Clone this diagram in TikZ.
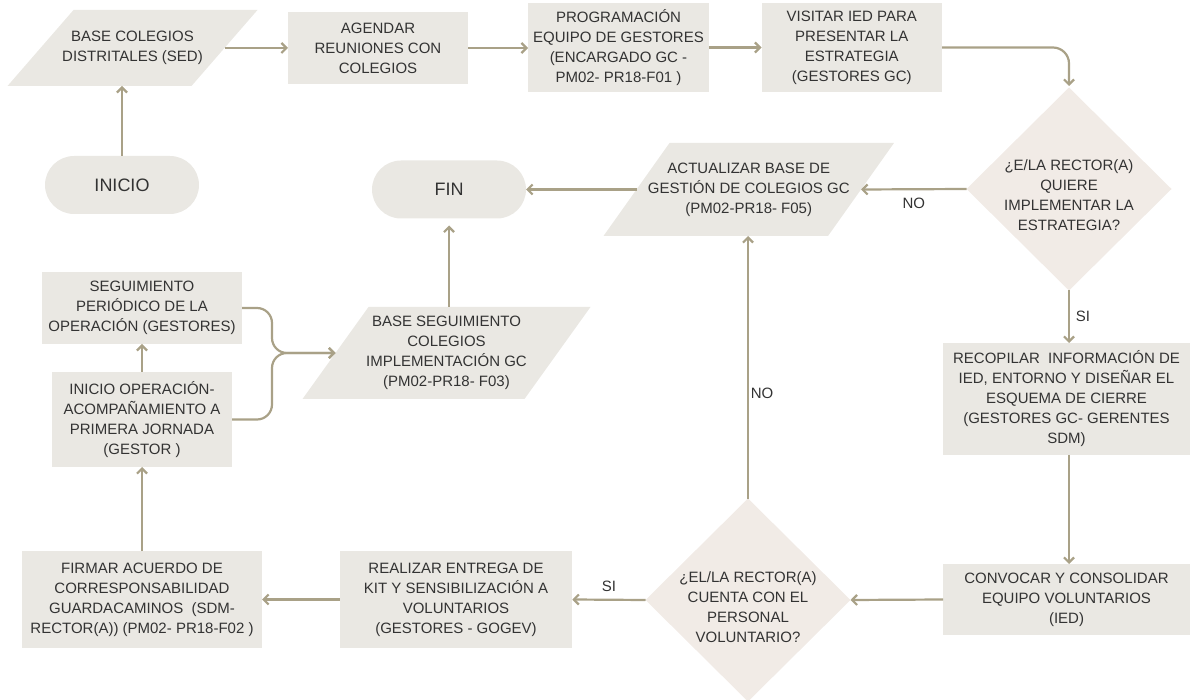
\documentclass[tikz,border=0pt]{standalone}
\usepackage{fontspec}
\setmainfont{Liberation Sans}
\usetikzlibrary{shapes.geometric,arrows.meta,backgrounds,calc}
\definecolor{boxfill}{HTML}{EAE8E3}
\definecolor{dfill}{HTML}{F1EBE6}
\definecolor{arr}{HTML}{A9A187}
\definecolor{txt}{HTML}{333333}
\tikzset{
 basenode/.style={inner sep=0pt, outer sep=0pt, align=center, text=txt, font=\fontsize{15}{20}\selectfont},
 procbox/.style={basenode, rectangle, fill=boxfill},
 parabox/.style={basenode, rectangle},
 termbox/.style={basenode, rectangle, rounded corners=29pt, fill=boxfill, minimum width=154pt, minimum height=58pt, font=\fontsize{18}{22}\selectfont},
 decision/.style={basenode, diamond, fill=dfill, minimum width=205pt, minimum height=203pt},
 flow/.style={draw=arr, line width=2.2pt, -{Straight Barb[length=5pt,width=10pt]}},
 lbl/.style={text=txt, font=\fontsize{15}{20}\selectfont, inner sep=0pt}
}
\begin{document}
\begin{tikzpicture}[x=1pt,y=-1pt]
\useasboundingbox (0,0) rectangle (1192,700);
% top row
\node[parabox, minimum width=184pt, minimum height=76pt] (base1) at (132.5,48) {BASE COLEGIOS\\DISTRITALES (SED)};
\node[procbox, minimum width=180pt, minimum height=72pt] (agendar) at (378,48) {AGENDAR\\REUNIONES CON\\COLEGIOS};
\node[procbox, minimum width=181pt, minimum height=89pt] (prog) at (618.5,47.5) {PROGRAMACIÓN\\EQUIPO DE GESTORES\\(ENCARGADO GC -\\PM02- PR18-F01 )};
\node[procbox, minimum width=180.5pt, minimum height=89pt] (visitar) at (851.75,47.5) {VISITAR IED PARA\\PRESENTAR LA\\ESTRATEGIA\\(GESTORES GC)};
\node[termbox] (inicio) at (122,185) {INICIO};
\node[termbox] (fin) at (449,189.5) {FIN};
\node[decision, label={[basenode, yshift=-6pt]center:{¿E/LA RECTOR(A)\\QUIERE\\IMPLEMENTAR LA\\ESTRATEGIA?}}] (d1) at (1069,189) {};
\node[parabox, minimum width=224.5pt, minimum height=93pt] (actualizar) at (748.75,189.5) {ACTUALIZAR BASE DE\\GESTIÓN DE COLEGIOS GC\\(PM02-PR18- F05)};
% right column
\node[procbox, minimum width=247pt, minimum height=112pt] (recopilar) at (1066.5,399) {RECOPILAR~ INFORMACIÓN DE\\IED, ENTORNO Y DISEÑAR EL\\ESQUEMA DE CIERRE\\(GESTORES GC- GERENTES\\SDM)};
\node[procbox, minimum width=247pt, minimum height=71pt] (convocar) at (1066.5,599.5) {CONVOCAR Y CONSOLIDAR\\EQUIPO VOLUNTARIOS\\(IED)};
% bottom row
\node[decision, label={[basenode, yshift=-7pt]center:{¿EL/LA RECTOR(A)\\CUENTA CON EL\\PERSONAL\\VOLUNTARIO?}}] (d2) at (748,600) {};
\node[procbox, minimum width=232.5pt, minimum height=97pt] (realizar) at (456,599.5) {REALIZAR ENTREGA DE\\KIT Y SENSIBILIZACIÓN A\\VOLUNTARIOS\\(GESTORES - GOGEV)};
\node[procbox, minimum width=240pt, minimum height=97pt] (firmar) at (142,599.5) {FIRMAR ACUERDO DE\\CORRESPONSABILIDAD\\GUARDACAMINOS~ (SDM-\\RECTOR(A)) (PM02- PR18-F02 )};
% left column
\node[procbox, minimum width=180pt, minimum height=95pt] (inicioop) at (142,419.5) {INICIO OPERACIÓN-\\ACOMPAÑAMIENTO A\\PRIMERA JORNADA\\(GESTOR )};
\node[procbox, minimum width=200pt, minimum height=72pt] (seguim) at (142,308) {SEGUIMIENTO\\PERIÓDICO DE LA\\OPERACIÓN (GESTORES)};
\node[parabox, minimum width=222pt, minimum height=92pt] (baseseg) at (446.5,353) {BASE SEGUIMIENTO\\COLEGIOS\\IMPLEMENTACIÓN GC\\(PM02-PR18- F03)};
% parallelogram fills
\begin{scope}[on background layer]
\foreach \n in {base1,actualizar,baseseg}{
 \fill[boxfill] ($(\n.north west)+(33,0)$) -- ($(\n.north east)+(33,0)$) -- ($(\n.south east)+(-33,0)$) -- ($(\n.south west)+(-33,0)$) -- cycle;
}
\end{scope}
% connectors
\draw[flow] (inicio.north) -- (inicio.north |- base1.south);
\draw[flow] (base1.east) -- (agendar.west);
\draw[flow] (agendar.east) -- (agendar.east -| prog.west);
\draw[flow] (prog.east) -- (visitar.west);
\draw[flow, rounded corners=16pt, shorten >=1.5pt] (visitar.east) -- (visitar.east -| d1.north) -- (d1.north);
\draw[flow] (d1.west) -- (actualizar.east) node[lbl, midway, yshift=-14pt] {NO};
\draw[flow] (actualizar.west) -- (fin.east);
\draw[flow] (d1.south) -- (d1.south |- recopilar.north) node[lbl, midway, xshift=14pt] {SI};
\draw[flow] (d1.south |- recopilar.south) -- (d1.south |- convocar.north);
\draw[flow] (convocar.west) -- (d2.east);
\draw[flow] (d2.north) -- (d2.north |- actualizar.south) node[lbl, pos=0.4, xshift=14pt] {NO};
\draw[flow] (d2.west) -- (realizar.east) node[lbl, midway, yshift=13pt] {SI};
\draw[flow] (realizar.west) -- (firmar.east);
\draw[flow] (firmar.north) -- (inicioop.south);
\draw[flow] (inicioop.north) -- (seguim.south);
\coordinate (mx) at (272,353);
\draw[flow, rounded corners=15pt] (seguim.east) -- (seguim.east -| mx) -- (mx) -- (baseseg.west);
\draw[flow, rounded corners=15pt] (inicioop.east) -- (inicioop.east -| mx) -- (mx) -- (baseseg.west);
\draw[flow, shorten >=7pt] (fin.south |- baseseg.north) -- (fin.south);
\end{tikzpicture}
\end{document}
